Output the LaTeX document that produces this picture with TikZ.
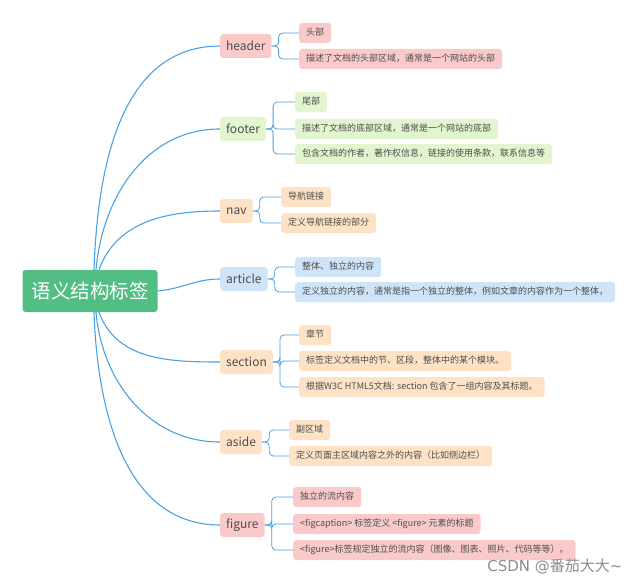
\documentclass[tikz,border=0pt]{standalone}
\usepackage{fontspec}
\newfontfamily\cjk{Noto Sans CJK SC}
\usetikzlibrary{positioning}

\definecolor{rootgreen}{RGB}{82,190,132}
\definecolor{linkblue}{RGB}{74,162,226}
\definecolor{pinkfill}{RGB}{250,202,202}
\definecolor{greenfill}{RGB}{226,245,206}
\definecolor{peachfill}{RGB}{253,226,198}
\definecolor{bluefill}{RGB}{207,228,248}
\definecolor{inktext}{RGB}{78,78,78}

\begin{document}
\begin{tikzpicture}[
  x=1pt, y=-1pt,
  every node/.style={font=\cjk},
  root/.style={
    fill=rootgreen, rounded corners=3pt, text=white,
    font=\cjk\fontsize{19.5}{22}\selectfont,
    minimum width=135pt, minimum height=42pt
  },
  branch/.style={
    rounded corners=3pt, anchor=west, text=inktext,
    font=\cjk\fontsize{12}{14}\selectfont,
    inner xsep=6pt, minimum height=24pt
  },
  leaf/.style={
    rounded corners=3pt, anchor=west, text=inktext,
    font=\cjk\fontsize{9}{11}\selectfont,
    inner xsep=7pt, minimum height=20pt, text height=7pt, text depth=1.5pt
  },
  trunk/.style={draw=linkblue, line width=1.1pt},
  link/.style={draw=linkblue, line width=0.8pt, rounded corners=4pt}
]
\useasboundingbox (0,0) rectangle (640,583);

% Centre
\node[root] (root) at (90,291) {语义结构标签};

% Branches
\node[branch, fill=pinkfill]  (header)  at (220,46)  {header};
\node[branch, fill=greenfill] (footer)  at (220,129) {footer};
\node[branch, fill=peachfill] (nav)     at (220,211) {nav};
\node[branch, fill=bluefill]  (article) at (220,279) {article};
\node[branch, fill=peachfill] (section) at (220,362) {section};
\node[branch, fill=peachfill] (aside)   at (220,442) {aside};
\node[branch, fill=pinkfill]  (figure)  at (220,525) {figure};

% header leaves
\node[leaf, fill=pinkfill] (h1) at (299,33) {头部};
\node[leaf, fill=pinkfill] (h2) at (299,59) {描述了文档的头部区域，通常是一个网站的头部};

% footer leaves
\node[leaf, fill=greenfill] (f1) at (295,102) {尾部};
\node[leaf, fill=greenfill] (f2) at (295,129) {描述了文档的底部区域，通常是一个网站的底部};
\node[leaf, fill=greenfill] (f3) at (295,154) {包含文档的作者，著作权信息，链接的使用条款，联系信息等};

% nav leaves
\node[leaf, fill=peachfill] (n1) at (281,197) {导航链接};
\node[leaf, fill=peachfill] (n2) at (281,223) {定义导航链接的部分};

% article leaves
\node[leaf, fill=bluefill] (a1) at (295,267) {整体、独立的内容};
\node[leaf, fill=bluefill] (a2) at (295,292) {定义独立的内容，通常是指一个独立的整体，例如文章的内容作为一个整体，};

% section leaves
\node[leaf, fill=peachfill] (s1) at (299,335) {章节};
\node[leaf, fill=peachfill] (s2) at (299,361) {标签定义文档中的节、区段，整体中的某个模块。};
\node[leaf, fill=peachfill] (s3) at (299,387) {根据W3C HTML5文档: section 包含了一组内容及其标题。};

% aside leaves
\node[leaf, fill=peachfill] (d1) at (289,430) {副区域};
\node[leaf, fill=peachfill] (d2) at (289,456) {定义页面主区域内容之外的内容（比如侧边栏）};

% figure leaves
\node[leaf, fill=pinkfill] (g1) at (293,497) {独立的流内容};
\node[leaf, fill=pinkfill] (g2) at (293,524) {<figcaption> 标签定义 <figure> 元素的标题};
\node[leaf, fill=pinkfill] (g3) at (293,550) {<figure>标签规定独立的流内容（图像、图表、照片、代码等等）。};

% Centre -> branches
\draw[trunk] ([xshift=4pt]root.north) to[out=88, in=180] (header.west);
\draw[trunk] ([xshift=6pt]root.north) to[out=85, in=180] (footer.west);
\draw[trunk] ([xshift=9pt]root.north) to[out=70, in=180] (nav.west);
\draw[trunk] (root.east) to[out=5, in=180] (article.west);
\draw[trunk] ([xshift=9pt]root.south) to[out=-70, in=180] (section.west);
\draw[trunk] ([xshift=6pt]root.south) to[out=-85, in=180] (aside.west);
\draw[trunk] ([xshift=4pt]root.south) to[out=-88, in=180] (figure.west);

% Branches -> leaves
\foreach \b/\l in {header/h1, header/h2, footer/f1, footer/f2, footer/f3,
                   nav/n1, nav/n2, article/a1, article/a2,
                   section/s1, section/s2, section/s3, aside/d1, aside/d2,
                   figure/g1, figure/g2, figure/g3}
  \draw[link] (\b.east) -- ++(7pt,0) |- (\l.west);

% watermark
\node[text=black!45, font=\fontspec{DejaVu Sans}\fontsize{15}{17}\selectfont, anchor=east]
  (mark) at (626,566) {CSDN @{\cjk 番茄大大}\raisebox{0pt}{\textasciitilde}};
\end{tikzpicture}
\end{document}
